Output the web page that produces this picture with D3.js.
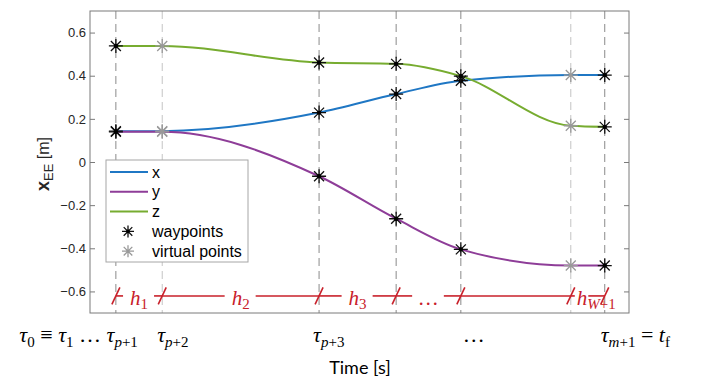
<!DOCTYPE html>
<html>
<head>
<meta charset="utf-8">
<script src="https://cdn.jsdelivr.net/npm/d3@7"></script>
<style>
  body { margin: 0; background: #fff; }
  svg { display: block; }
</style>
</head>
<body>
<svg id="main" width="710" height="377"></svg>
<script>
// waypoint times (arbitrary time units) and whether the point is virtual
const times   = [0.48, 1.34, 4.25, 5.68, 6.88, 8.92, 9.55];
const virtual = [false, true, false, false, false, true, false];

// end-effector positions at the points
const xVals = [0.143, 0.143, 0.229, 0.315, 0.377, 0.403, 0.403];
const yVals = [0.140, 0.140, -0.066, -0.263, -0.405, -0.480, -0.480];
const zVals = [0.538, 0.538, 0.461, 0.455, 0.398, 0.168, 0.163];

const seriesNames  = ['x', 'y', 'z'];
const seriesColors = ['#1f77c4', '#8e3d98', '#77ac30'];

const yTicks = [-0.6, -0.4, -0.2, 0, 0.2, 0.4, 0.6];

// interval labels h_i between points (index of start point)
const hLabels = [
  { i: 0, main: 'h', subI: '', sub: '1' },
  { i: 1, main: 'h', subI: '', sub: '2' },
  { i: 2, main: 'h', subI: '', sub: '3' },
  { i: 3, main: '…', subI: '', sub: '' },
  { i: 4, main: '', subI: '', sub: '' },
  { i: 5, main: 'h', subI: 'W', sub: '+1', tight: true }
];

main();

function main() {
  const margin = { top: 11, right: 81, bottom: 64, left: 90 },
    width = 710 - margin.left - margin.right,
    height = 377 - margin.top - margin.bottom;

  const svg = d3.select('#main');
  const g = svg.append('g').attr('transform', `translate(${margin.left},${margin.top})`);

  const x = d3.scaleLinear().domain([0, 10]).range([0, width]);
  const y = d3.scaleLinear().domain([-0.7, 0.7]).range([height, 0]);

  // vertical dashed lines at every point
  g.append('g')
    .selectAll('line')
    .data(times)
    .enter()
    .append('line')
    .attr('x1', d => x(d)).attr('x2', d => x(d))
    .attr('y1', 0).attr('y2', height)
    .attr('stroke', (d, i) => virtual[i] ? '#c4c4c4' : '#8a8a8a')
    .attr('stroke-width', 1)
    .attr('stroke-dasharray', '8,5');

  // axes box
  g.append('rect')
    .attr('width', width).attr('height', height)
    .attr('fill', 'none').attr('stroke', '#7a7a7a').attr('stroke-width', 1);

  const yAxisL = g.append('g')
    .call(d3.axisLeft(y).tickValues(yTicks).tickSizeInner(-5).tickSizeOuter(0).tickPadding(4)
      .tickFormat(d => d === 0 ? '0' : d3.format('.1f')(d)));
  const yAxisR = g.append('g').attr('transform', `translate(${width},0)`)
    .call(d3.axisRight(y).tickValues(yTicks).tickSizeInner(-5).tickSizeOuter(0).tickFormat(''));
  [yAxisL, yAxisR].forEach(a => {
    a.select('.domain').remove();
    a.selectAll('line').attr('stroke', '#7a7a7a');
  });
  yAxisL.selectAll('text')
    .attr('fill', '#262626')
    .style('font-family', '"Liberation Sans", Arial, sans-serif')
    .style('font-size', '13px');

  // curves
  const series = [xVals, yVals, zVals];
  const line = d3.line()
    .x((d, i) => x(times[i]))
    .y(d => y(d))
    .curve(d3.curveMonotoneX);

  g.append('g')
    .selectAll('path')
    .data(series)
    .enter()
    .append('path')
    .attr('d', line)
    .attr('fill', 'none')
    .attr('stroke', (d, i) => seriesColors[i])
    .attr('stroke-width', 2);

  // asterisk markers
  const star = 'M-7,0L7,0M0,-7L0,7M-5,-5L5,5M-5,5L5,-5';
  const starSmall = 'M-6,0L6,0M0,-6L0,6M-4.3,-4.3L4.3,4.3M-4.3,4.3L4.3,-4.3';
  const pts = [];
  series.forEach(s => s.forEach((v, i) => pts.push({ t: times[i], v: v, virt: virtual[i] })));

  const mk = g.append('g')
    .selectAll('g')
    .data(pts)
    .enter()
    .append('g')
    .attr('transform', d => `translate(${x(d.t)},${y(d.v)})`);
  mk.append('path')
    .attr('d', star)
    .attr('stroke', d => d.virt ? '#999' : '#111')
    .attr('stroke-width', 1.3)
    .attr('fill', 'none');
  mk.filter(d => !d.virt).append('circle')
    .attr('r', 2.2).attr('fill', '#000');

  // legend
  const lg = svg.append('g').attr('transform', 'translate(106,160)');
  lg.append('rect')
    .attr('width', 142).attr('height', 102)
    .attr('fill', '#fff').attr('stroke', '#a6a6a6').attr('stroke-width', 1);
  const legItems = seriesNames.map((n, i) => ({ name: n, color: seriesColors[i], type: 'line' }))
    .concat([{ name: 'waypoints', color: '#111', type: 'mark' },
             { name: 'virtual points', color: '#999', type: 'mark' }]);
  const li = lg.selectAll('.li')
    .data(legItems)
    .enter()
    .append('g')
    .attr('class', 'li')
    .attr('transform', (d, i) => `translate(0,${12 + i * 19.8})`);
  li.filter(d => d.type === 'line').append('line')
    .attr('x1', 4).attr('x2', 42)
    .attr('stroke', d => d.color).attr('stroke-width', 2);
  li.filter(d => d.type === 'mark').append('path')
    .attr('transform', 'translate(22,0)')
    .attr('d', starSmall).attr('fill', 'none')
    .attr('stroke', d => d.color).attr('stroke-width', 1.3);
  li.filter(d => d.name === 'waypoints').append('circle')
    .attr('cx', 22).attr('r', 1.8).attr('fill', '#000');
  li.append('text')
    .attr('x', 46).attr('y', 5.5)
    .attr('fill', '#000')
    .style('font-family', '"Liberation Sans", Arial, sans-serif')
    .style('font-size', '16px')
    .text(d => d.name);

  // red interval annotations
  const red = '#c8202a';
  const ry = y(-0.6) + 4.5;
  const ann = g.append('g');
  const serif = '"Liberation Serif", "DejaVu Serif", serif';

  hLabels.forEach(h => {
    const a = x(times[h.i]), b = x(times[h.i + 1]);
    let gap = null;
    if (h.main) {
      const cx = (a + b) / 2;
      const t = ann.append('text')
        .attr('y', ry + 9)
        .attr('fill', red)
        .style('font-family', serif)
        .style('font-size', '21px');
      const m = t.append('tspan').style('font-style', 'italic').text(h.main);
      if (h.subI) {
        t.append('tspan').attr('dy', 4).style('font-size', '15px').style('font-style', 'italic').text(h.subI);
      }
      if (h.sub) {
        t.append('tspan').attr('dy', h.subI ? 0 : 4).style('font-size', '15px').text(h.sub);
      }
      if (h.tight) {
        t.attr('x', a + 6);
        const bb = m.node().getBBox();
        gap = [bb.x - 2, bb.x + bb.width + 1];
      } else {
        const w = t.node().getBBox().width;
        t.attr('x', cx - w / 2);
        gap = [cx - w / 2 - 7, cx + w / 2 + 6];
      }
    }
    const segs = gap ? [[a, gap[0]], [gap[1], b]] : [[a, b]];
    segs.forEach(s => ann.append('line')
      .attr('x1', s[0]).attr('x2', s[1]).attr('y1', ry).attr('y2', ry)
      .attr('stroke', red).attr('stroke-width', 1.6));
  });
  ann.selectAll('.slash')
    .data(times)
    .enter()
    .append('line')
    .attr('x1', d => x(d) - 4).attr('x2', d => x(d) + 4)
    .attr('y1', ry + 8.5).attr('y2', ry - 8.5)
    .attr('stroke', red).attr('stroke-width', 1.6);

  // time tick labels under the axis
  const tl = svg.append('g')
    .style('font-family', serif)
    .style('font-size', '22px')
    .attr('fill', '#000');
  const tick = (xpos, anchor, parts) => {
    const t = tl.append('text').attr('x', xpos).attr('y', 342).attr('text-anchor', anchor);
    parts.forEach(p => {
      const s = t.append('tspan').text(p[0]);
      if (p[1] === 'sub') s.attr('dy', 5).style('font-size', '15px');
      if (p[1] === 'subi') s.attr('dy', 5).style('font-size', '15px').style('font-style', 'italic');
      if (p[1] === 'subr') s.style('font-size', '15px');
      if (p[1] === 'up') s.attr('dy', -5);
      if (p[2]) s.style('font-style', 'italic');
    });
  };
  const xs = d => margin.left + x(d);
  tick(xs(times[0]) + 22, 'end', [['τ', '', 1], ['0', 'sub'], [' ≡ ', 'up'], ['τ', '', 1], ['1', 'sub'], [' … ', 'up'], ['τ', '', 1], ['p', 'subi'], ['+1', 'subr']]);
  tick(xs(times[1]) - 5, 'start', [['τ', '', 1], ['p', 'subi'], ['+2', 'subr']]);
  tick(xs(times[2]) - 6, 'start', [['τ', '', 1], ['p', 'subi'], ['+3', 'subr']]);
  tick(xs(times[4]) + 13, 'middle', [['…', '']]);
  tick(xs(times[6]) - 4, 'start', [['τ', '', 1], ['m', 'subi'], ['+1', 'subr'], [' = ', 'up'], ['t', '', 1], ['f', 'sub']]);

  // axis titles
  svg.append('text')
    .attr('x', 360).attr('y', 374)
    .attr('text-anchor', 'middle')
    .style('font-family', 'Lato, "Open Sans", sans-serif')
    .style('font-size', '18px')
    .text('Time [s]');

  const yl = svg.append('text')
    .attr('transform', 'translate(49,164) rotate(-90)')
    .attr('text-anchor', 'middle')
    .attr('fill', '#262626')
    .style('font-family', '"Liberation Sans", Arial, sans-serif')
    .style('font-size', '16px');
  yl.append('tspan').style('font-weight', 'bold').style('font-size', '18px').text('x');
  yl.append('tspan').attr('dy', 4).style('font-size', '13px').text('EE');
  yl.append('tspan').attr('dy', -4).text(' [m]');
}
</script>
</body>
</html>
